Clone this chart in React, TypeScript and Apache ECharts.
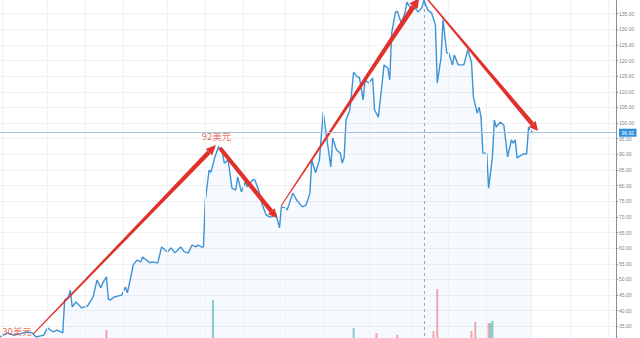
import React, { useEffect, useRef } from "react";
import * as echarts from "echarts";

// ---- price series (trading-day index, price) ----
const DAYS = [
  0, 4, 7, 10, 14, 17, 19, 23, 25, 28, 30, 33, 34, 36, 37, 38, 40, 43, 46, 47, 49, 51, 53, 54, 56, 57, 58, 60, 64, 66, 67, 69, 70, 72, 74,
  75, 77, 79, 80, 83, 85, 88, 90, 92, 95, 97, 99, 101, 103, 104, 106, 107, 108, 110, 111, 113, 115, 117, 118, 120, 122, 124, 125, 127, 129, 130, 133, 134, 136, 138, 140, 142,
  143, 145, 147, 148, 150, 151, 154, 156, 159, 161, 163, 164, 166, 168, 170, 172, 174, 175, 177, 179, 180, 181, 182, 184, 186, 188, 189, 191, 192, 194, 196, 197, 199, 201, 202, 204, 205, 206, 208, 209, 211, 213,
  214, 216, 218, 220, 222, 223, 225, 227, 229, 230, 232, 233, 235, 236, 238, 239, 241, 244, 246, 248, 249, 251, 252, 253, 254, 256, 257, 259, 260, 261, 263, 265, 267, 269, 270, 271, 272, 275, 277, 278, 280,
];
const PRICES = [
  31.6, 32.9, 32.2, 32.5, 33.2, 32.9, 31.6, 32.2, 34.5, 33.2, 33.8, 32.9, 43.4, 44.4, 46.6, 41.2, 42.8, 40.9, 41.5, 42.5, 44.4, 49.8, 47.3, 48.9, 50.8, 43.7, 43.4, 44.4, 45.0, 47.6, 45.7, 51.4, 54.6, 56.2, 55.6,
  57.2, 56.2, 55.3, 55.6, 55.3, 60.4, 58.8, 60.1, 58.5, 60.4, 58.8, 58.5, 61.0, 60.4, 61.0, 60.4, 60.4, 75.4, 85.0, 84.3, 89.1, 92.5, 90.4, 87.2, 88.2, 79.2, 78.6, 82.8, 78.0, 81.2, 79.6, 81.9, 81.9, 78.6, 73.8, 70.6, 70.0,
  70.0, 71.3, 66.5, 73.2, 72.9, 72.2, 77.6, 75.4, 73.2, 73.8, 77.6, 88.2, 84.1, 88.2, 103.5, 94.6, 86.0, 95.2, 91.4, 90.4, 87.2, 89.1, 101.0, 104.2, 116.3, 114.7, 114.7, 107.4, 113.8, 112.8, 114.4, 104.2, 101.9, 112.8, 118.6, 117.6, 113.8, 128.8, 135.5, 135.8, 132.0, 135.2,
  138.7, 136.8, 137.1, 135.5, 137.1, 139.4, 136.2, 135.2, 131.4, 112.8, 121.1, 133.0, 122.4, 122.4, 118.6, 121.8, 118.6, 118.6, 123.4, 119.5, 108.3, 103.2, 105.1, 101.9, 90.4, 90.4, 79.2, 89.2, 101.0, 98.7, 100.3, 99.4, 89.2, 94.6, 93.6, 94.6, 88.9, 90.1, 90.1, 98.7, 96.92,
];
const LAST_PRICE = 96.92;
const CROSSHAIR_DAY = 223;
const MONTH_START_DAYS = [1, 25, 45, 65, 88, 108, 128, 150, 170, 194, 217, 236, 256, 279, 300, 320];

// ---- axis ----
const Y_MIN = 30;
const Y_MAX = 140;
const Y_STEP = 5;
const X_MIN = 0;
const X_MAX = 324;

// ---- volume (only the visible bars) ----
const VOL_DAYS = [56, 112, 186, 198, 209, 228, 230, 248, 250, 257, 258, 259];
const VOL_VALUES = [8, 38, 10, 5, 3, 7, 49, 7, 16, 15, 15, 17];
const VOL_UP = [false, true, true, false, false, false, false, false, false, false, true, true];

// ---- hand-drawn arrows ----
const ARROW_FROM_DAY = [17.4, 115.7, 147.8, 225.1];
const ARROW_FROM_PRICE = [32.5, 92.0, 73.5, 139.4];
const ARROW_TO_DAY = [113.6, 145.7, 220.4, 283.0];
const ARROW_TO_PRICE = [93.0, 69.6, 140.0, 97.5];

// ---- notes ----
const NOTE_TEXT = ["30美元", "92美元"];
const NOTE_DAY = [17.4, 113.6];
const NOTE_PRICE = [32.5, 93.0];

// styles (kept apart from data)
const ARROW_STYLE = [
  { w1: 1, w2: 4.5, headLen: 10, headW: 9 },
  { w1: 4, w2: 4.5, headLen: 9, headW: 9 },
  { w1: 1, w2: 5, headLen: 10, headW: 10 },
  { w1: 1.5, w2: 4.5, headLen: 9, headW: 9 },
];
const NOTE_OFFSET = [
  [-16, -3.5],
  [0.5, -8.5],
];

function buildOption() {
  const priceData = DAYS.map((d, i) => [d, PRICES[i]]);
  const volData = VOL_DAYS.map((d, i) => ({
    value: [d, VOL_VALUES[i]],
    itemStyle: { color: VOL_UP[i] ? "rgba(38,166,154,0.55)" : "rgba(239,83,80,0.5)" },
  }));
  const arrowData = ARROW_FROM_DAY.map((d, i) => [d, ARROW_FROM_PRICE[i], ARROW_TO_DAY[i], ARROW_TO_PRICE[i]]);
  const noteData = NOTE_TEXT.map((t, i) => ({
    value: [NOTE_DAY[i], NOTE_PRICE[i]],
    name: t,
    label: { offset: NOTE_OFFSET[i] },
  }));
  const gridLineStyle = { color: "#eff1f4", width: 1, type: "solid" };

  return {
    animation: false,
    backgroundColor: "#ffffff",
    grid: [
      { left: 0, right: 24, top: -2, height: 344, outerBoundsMode: "none", containLabel: false },
      { left: 0, right: 24, bottom: 0, height: 100, outerBoundsMode: "none", containLabel: false },
    ],
    xAxis: [
      { type: "value", gridIndex: 0, min: X_MIN, max: X_MAX, show: false, axisLine: { onZero: false } },
      { type: "value", gridIndex: 1, min: X_MIN, max: X_MAX, show: false, axisLine: { onZero: false } },
    ],
    yAxis: [
      {
        type: "value",
        gridIndex: 0,
        position: "right",
        min: Y_MIN,
        max: Y_MAX,
        interval: Y_STEP,
        axisLine: { show: true, onZero: false, lineStyle: { color: "#8a8d95", width: 1 } },
        axisTick: { show: true, length: 2, lineStyle: { color: "#8a8d95" } },
        axisLabel: {
          show: true,
          showMinLabel: false,
          fontSize: 5,
          color: "#80838b",
          margin: 3,
          fontFamily: "Liberation Sans, Arial, sans-serif",
          formatter: (v: number) => v.toFixed(2),
        },
        splitLine: { show: true, lineStyle: { color: "#eff1f4", width: 1 } },
      },
      { type: "value", gridIndex: 1, min: 0, max: 100, show: false, axisLine: { onZero: false } },
    ],
    series: [
      {
        type: "line",
        xAxisIndex: 0,
        yAxisIndex: 0,
        data: [],
        silent: true,
        itemStyle: { color: "#eff1f4" },
        markLine: {
          silent: true,
          symbol: "none",
          animation: false,
          label: { show: false },
          lineStyle: gridLineStyle,
          data: MONTH_START_DAYS.map((d) => ({ xAxis: d, lineStyle: gridLineStyle })),
        },
      },
      {
        type: "bar",
        xAxisIndex: 1,
        yAxisIndex: 1,
        barWidth: 2,
        data: volData,
        silent: true,
      },
      {
        type: "line",
        xAxisIndex: 0,
        yAxisIndex: 0,
        data: priceData,
        showSymbol: false,
        silent: true,
        lineStyle: { color: "#3d93d6", width: 1.4 },
        areaStyle: { color: "rgba(70,150,225,0.07)", origin: "start" },
        markLine: {
          silent: true,
          symbol: "none",
          animation: false,
          z: 20,
          data: [
            {
              xAxis: CROSSHAIR_DAY,
              label: { show: false },
              lineStyle: { color: "#a3a6ad", width: 1, type: [3, 3] },
            },
            {
              yAxis: LAST_PRICE,
              lineStyle: { color: "#a9c3dd", width: 1, type: "solid" },
              label: {
                show: true,
                position: "end",
                formatter: LAST_PRICE.toFixed(2),
                color: "#ffffff",
                backgroundColor: "#2f8fe0",
                fontSize: 5,
                fontFamily: "Liberation Sans, Arial, sans-serif",
                padding: [1.5, 2.5],
                distance: 3,
              },
            },
          ],
        },
      },
      {
        type: "custom",
        xAxisIndex: 0,
        yAxisIndex: 0,
        silent: true,
        clip: false,
        z: 10,
        encode: { x: [0, 2], y: [1, 3] },
        data: arrowData,
        renderItem: (params: any, api: any) => {
          const s = ARROW_STYLE[params.dataIndex];
          const p1 = api.coord([api.value(0), api.value(1)]);
          const p2 = api.coord([api.value(2), api.value(3)]);
          const dx = p2[0] - p1[0];
          const dy = p2[1] - p1[1];
          const len = Math.sqrt(dx * dx + dy * dy) || 1;
          const ux = dx / len;
          const uy = dy / len;
          const nx = -uy;
          const ny = ux;
          const bx = p2[0] - ux * s.headLen;
          const by = p2[1] - uy * s.headLen;
          const color = "#e2312b";
          return {
            type: "group",
            children: [
              {
                type: "polygon",
                shape: {
                  points: [
                    [p1[0] + (nx * s.w1) / 2, p1[1] + (ny * s.w1) / 2],
                    [bx + (nx * s.w2) / 2, by + (ny * s.w2) / 2],
                    [bx - (nx * s.w2) / 2, by - (ny * s.w2) / 2],
                    [p1[0] - (nx * s.w1) / 2, p1[1] - (ny * s.w1) / 2],
                  ],
                },
                style: { fill: color },
              },
              {
                type: "polygon",
                shape: {
                  points: [
                    [p2[0], p2[1]],
                    [bx + (nx * s.headW) / 2, by + (ny * s.headW) / 2],
                    [bx - (nx * s.headW) / 2, by - (ny * s.headW) / 2],
                  ],
                },
                style: { fill: color },
              },
            ],
          };
        },
      },
      {
        type: "scatter",
        xAxisIndex: 0,
        yAxisIndex: 0,
        silent: true,
        symbolSize: 1,
        itemStyle: { color: "rgba(0,0,0,0)" },
        z: 12,
        data: noteData,
        label: {
          show: true,
          position: "inside",
          formatter: (p: any) => p.name,
          color: "#e0503a",
          fontSize: 9.5,
          fontFamily: "Noto Sans CJK SC, sans-serif",
        },
      },
    ],
  };
}

export default function App() {
  const ref = useRef<HTMLDivElement>(null);
  useEffect(() => {
    if (!ref.current) return;
    const chart = echarts.init(ref.current, null, { renderer: "svg" });
    chart.setOption(buildOption() as any);
    return () => chart.dispose();
  }, []);
  return (
    <div
      ref={ref}
      style={{ position: "fixed", left: 0, top: 0, width: 640, height: 338, background: "#ffffff" }}
    />
  );
}
